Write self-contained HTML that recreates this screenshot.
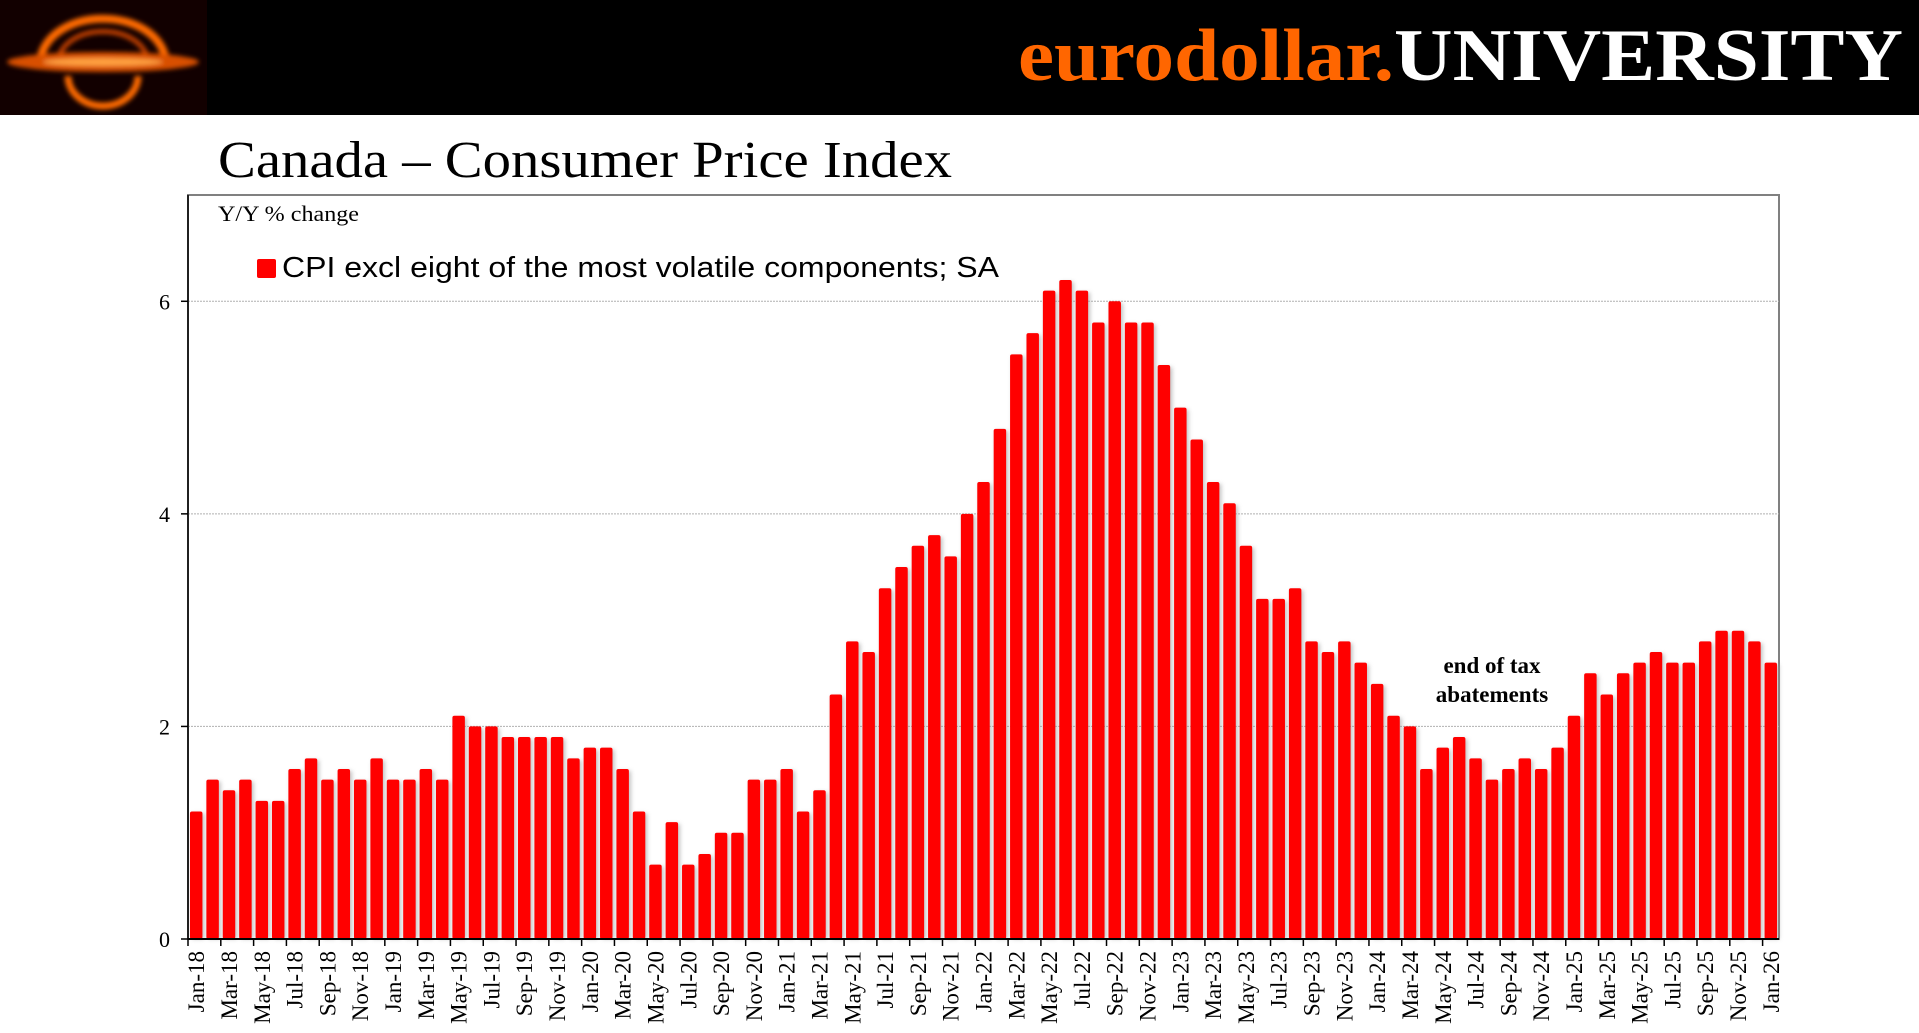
<!DOCTYPE html>
<html><head><meta charset="utf-8"><style>
html,body{margin:0;padding:0;background:#fff;}
svg{display:block;}
text{font-family:"Liberation Serif",serif;}
</style></head><body>
<svg id="chart" width="1919" height="1033" viewBox="0 0 1919 1033" xmlns="http://www.w3.org/2000/svg">
<defs>
<filter id="sh" x="-50%" y="-5%" width="200%" height="110%"><feGaussianBlur stdDeviation="2"/></filter>
<filter id="lb"><feGaussianBlur stdDeviation="2.5"/></filter>
</defs>
<rect x="0" y="0" width="1919" height="115" fill="#000"/>
<g>
<rect x="0" y="0" width="207" height="115" fill="#120000"/>
<g filter="url(#lb)">
<path d="M40,60 C50,5 156,5 166,60" fill="none" stroke="#ff6a00" stroke-width="8"/>
<path d="M58,60 C66,22 140,22 148,60" fill="none" stroke="#c04000" stroke-width="5"/>
<ellipse cx="103" cy="62" rx="96" ry="10" fill="#d85000"/>
<ellipse cx="103" cy="62" rx="60" ry="4" fill="#ffa040"/>
<path d="M68,76 A35,30 0 0 0 138,76" fill="none" stroke="#ff6a00" stroke-width="7"/>
</g>
</g>
<text x="1018" y="80" font-size="74" font-weight="bold" textLength="885" lengthAdjust="spacingAndGlyphs"><tspan fill="#ff6600">eurodollar.</tspan><tspan fill="#fff">UNIVERSITY</tspan></text>
<text x="218" y="177" font-size="52" fill="#000" textLength="734" lengthAdjust="spacingAndGlyphs">Canada – Consumer Price Index</text>
<rect x="188" y="195" width="1591" height="744" fill="none" stroke="#808080" stroke-width="2"/>
<text x="218" y="221" font-size="22" fill="#000" textLength="141" lengthAdjust="spacingAndGlyphs">Y/Y % change</text>
<g>
<rect x="257" y="259" width="19" height="19" rx="2" fill="#ff0000"/>
<text x="282" y="277" font-size="29" style="font-family:'Liberation Sans',sans-serif" textLength="717" lengthAdjust="spacingAndGlyphs">CPI excl eight of the most volatile components; SA</text>
</g>
<g id="grid"></g>
<g id="bars"></g>
<g id="axes"></g>
<text x="1492" y="673" font-size="23" font-weight="bold" text-anchor="middle">end of tax</text>
<text x="1492" y="702" font-size="23" font-weight="bold" text-anchor="middle">abatements</text>
</svg>
<script>
const months = ["Jan","Feb","Mar","Apr","May","Jun","Jul","Aug","Sep","Oct","Nov","Dec"];
const years = ["18","19","20","21","22","23","24","25","26"];
const values = [
1.2,1.5,1.4,1.5,1.3,1.3,1.6,1.7,1.5,1.6,1.5,1.7,
1.5,1.5,1.6,1.5,2.1,2.0,2.0,1.9,1.9,1.9,1.9,1.7,
1.8,1.8,1.6,1.2,0.7,1.1,0.7,0.8,1.0,1.0,1.5,1.5,
1.6,1.2,1.4,2.3,2.8,2.7,3.3,3.5,3.7,3.8,3.6,4.0,
4.3,4.8,5.5,5.7,6.1,6.2,6.1,5.8,6.0,5.8,5.8,5.4,
5.0,4.7,4.3,4.1,3.7,3.2,3.2,3.3,2.8,2.7,2.8,2.6,
2.4,2.1,2.0,1.6,1.8,1.9,1.7,1.5,1.6,1.7,1.6,1.8,
2.1,2.5,2.3,2.5,2.6,2.7,2.6,2.6,2.8,2.9,2.9,2.8,
2.6];
const yTicks = [0,2,4,6];
const categories = values.map((v,i)=>months[i%12]+"-"+years[Math.floor(i/12)]);

const NS="http://www.w3.org/2000/svg";
const L=188,R=1779,T=195,B=939,YMAX=7;
const slot=(R-L)/values.length;
function xScale(i){return L+i*slot;}
function yScale(v){return B-(v/YMAX)*(B-T);}
function mk(tag,attrs,parent){const e=document.createElementNS(NS,tag);for(const k in attrs)e.setAttribute(k,attrs[k]);parent.appendChild(e);return e;}

const grid=document.getElementById('grid'),bars=document.getElementById('bars'),axes=document.getElementById('axes');
yTicks.forEach(t=>{
  const y=yScale(t);
  if(t>0){const g=mk('line',{x1:L,x2:R,y1:y,y2:y,stroke:'#b0b0b0','stroke-width':1,'stroke-dasharray':'2,1'},grid);
    
    }
  const tk=mk('line',{x1:L-7,x2:L,y1:y,y2:y,stroke:'#000','stroke-width':1.5},axes);
  
  
  const lb=mk('text',{x:L-18,y:y+8,'font-size':22,'text-anchor':'end'},axes);
  lb.textContent=t;
  
  
});
const bw=slot*0.76;
values.forEach((v,i)=>{
  const x=xScale(i)+(slot-bw)/2,y=yScale(v);
  const s=mk('rect',{x:x+2,y:y+2,width:bw,height:B-y-2,fill:'#999',opacity:0.6,filter:'url(#sh)'},bars);
  
  
  const r=mk('rect',{x:x,y:y,width:bw,height:B-y,rx:2,fill:'#ff0000'},bars);
  
  
});
const ax=mk('line',{x1:L,x2:R,y1:B,y2:B,stroke:'#000','stroke-width':2},axes);


const ay=mk('line',{x1:L,x2:L,y1:T,y2:B,stroke:'#000','stroke-width':1.5},axes);


categories.forEach((c,i)=>{
  if(i%2!==0)return;
  const x=xScale(i);
  const tk=mk('line',{x1:x,x2:x,y1:B,y2:B+7,stroke:'#000','stroke-width':1.5},axes);
  
  
  const cx=x+slot/2+8;
  const lb=mk('text',{x:cx,y:B+12,'font-size':23,'text-anchor':'end',transform:'rotate(-90 '+cx+' '+(B+12)+')'},axes);
  lb.textContent=c;
  
  
});
</script>
</body></html>
